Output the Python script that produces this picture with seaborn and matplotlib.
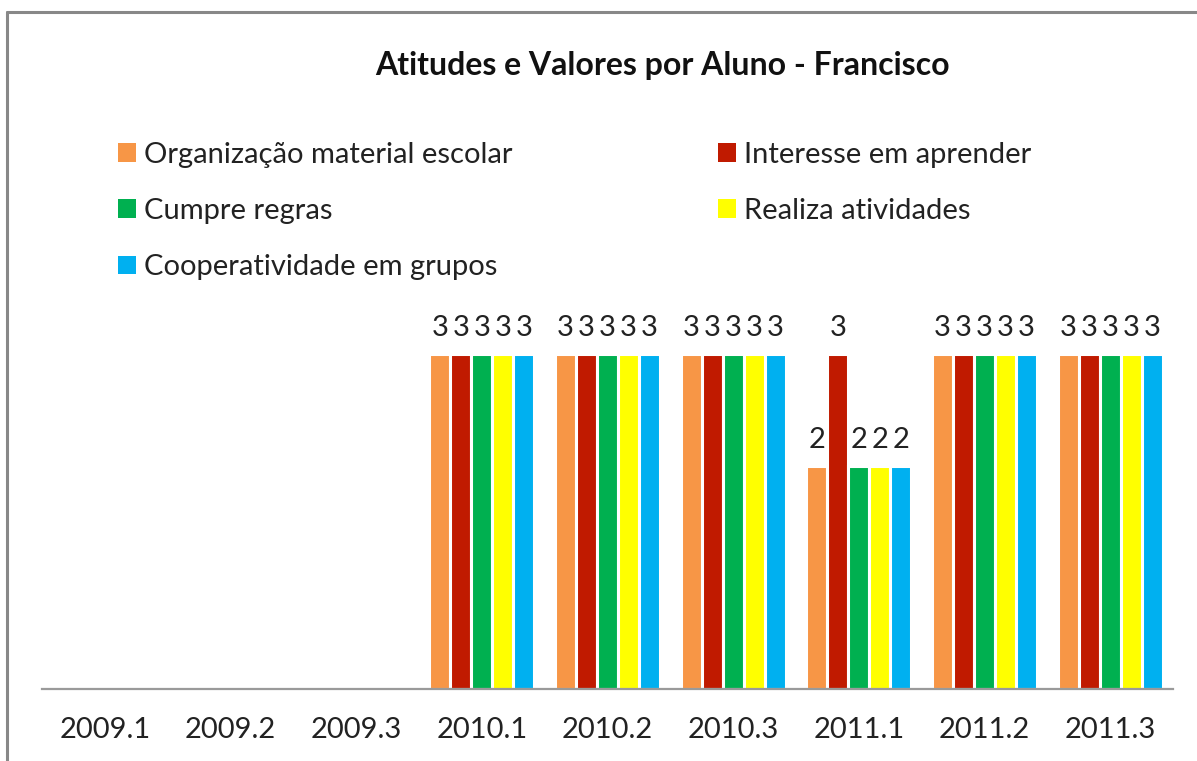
import numpy as np
import pandas as pd
import matplotlib
matplotlib.use("Agg")
import matplotlib.pyplot as plt
import seaborn as sns
from matplotlib.lines import Line2D
from matplotlib.patches import Patch

categories = ["2009.1", "2009.2", "2009.3", "2010.1", "2010.2", "2010.3", "2011.1", "2011.2", "2011.3"]
series_names = ["Organização material escolar", "Interesse em aprender", "Cumpre regras",
                "Realiza atividades", "Cooperatividade em grupos"]
organizacao = [np.nan, np.nan, np.nan, 3, 3, 3, 2, 3, 3]
interesse = [np.nan, np.nan, np.nan, 3, 3, 3, 3, 3, 3]
cumpre = [np.nan, np.nan, np.nan, 3, 3, 3, 2, 3, 3]
realiza = [np.nan, np.nan, np.nan, 3, 3, 3, 2, 3, 3]
cooperatividade = [np.nan, np.nan, np.nan, 3, 3, 3, 2, 3, 3]
colors = ["#F79646", "#C01A00", "#00B050", "#FFFF00", "#00B0F0"]
title = "Atitudes e Valores por Aluno - Francisco"

values = [organizacao, interesse, cumpre, realiza, cooperatividade]
df = pd.DataFrame({
    "periodo": np.repeat([categories], len(series_names), axis=0).ravel(),
    "serie": np.repeat(series_names, len(categories)),
    "valor": np.concatenate(values),
})

sns.set_theme(style="white")
plt.rcParams["font.family"] = ["Lato", "DejaVu Sans"]

W, H = 1197, 761
fig = plt.figure(figsize=(W / 100, H / 100), dpi=100)
ax = fig.add_axes([42 / W, (H - 689) / H, (1173 - 42) / W, (689 - 298) / H])

sns.barplot(data=df.dropna(), x="periodo", y="valor", hue="serie", order=categories,
            hue_order=series_names, palette=colors, saturation=1, width=0.835, ax=ax,
            edgecolor="white", linewidth=2.2, legend=False, errorbar=None)

for cont in ax.containers:
    ax.bar_label(cont, fmt="%g", padding=9, fontsize=21, color="#222222")

ax.set_xlim(-0.5, len(categories) - 0.5)
ax.set_ylim(0, 3.5)
ax.set_xlabel("")
ax.set_ylabel("")
ax.set_yticks([])
for s in ["top", "left", "right"]:
    ax.spines[s].set_visible(False)
ax.spines["bottom"].set_color("#9a9a9a")
ax.spines["bottom"].set_linewidth(1.6)
ax.tick_params(axis="x", length=0, pad=20, labelsize=21, labelcolor="#222222")

handles = [Patch(facecolor=c, edgecolor="none") for c in colors]
leg_kw = dict(loc="upper left", frameon=False, fontsize=21, handlelength=0.6,
              handleheight=0.6, handletextpad=0.3, labelspacing=1.03,
              borderaxespad=0, borderpad=0)
leg1 = fig.legend([handles[0], handles[2], handles[4]],
                  [series_names[0], series_names[2], series_names[4]],
                  bbox_to_anchor=(118 / W, 1 - 142 / H), **leg_kw)
leg2 = fig.legend([handles[1], handles[3]],
                  [series_names[1], series_names[3]],
                  bbox_to_anchor=(718 / W, 1 - 142 / H), **leg_kw)
for leg in (leg1, leg2):
    for t in leg.get_texts():
        t.set_color("#222222")

fig.text(662 / W, 1 - 65 / H, title, ha="center", va="center", fontsize=23,
         fontweight="bold", color="#111111")

fig.add_artist(Line2D([7 / W, 1], [1 - 12 / H, 1 - 12 / H], transform=fig.transFigure,
                      color="#888888", linewidth=2.2))
fig.add_artist(Line2D([7 / W, 7 / W], [0, 1 - 12 / H], transform=fig.transFigure,
                      color="#888888", linewidth=2.2))

fig.savefig("out.png", dpi=100)
